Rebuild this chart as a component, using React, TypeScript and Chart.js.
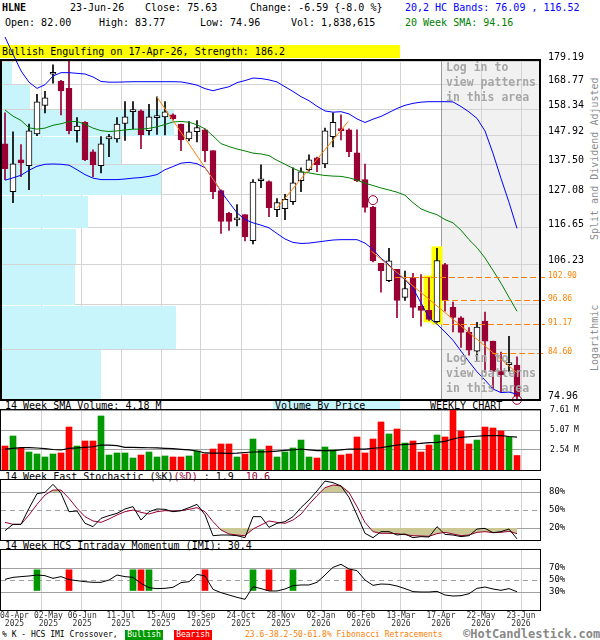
import React, { useEffect, useRef } from "react";
import { Chart, registerables } from "chart.js";

Chart.register(...registerables);

// ---------------- data (weekly bars, index 0 = week of 04-Apr-2025) ----------------
const openP = [144.8,128.1,139.0,136.9,148.6,159.9,173.2,170.1,167.0,149.8,153.1,141.9,136.9,146.7,146.7,152.6,157.3,157.6,149.8,154.9,155.2,156.0,152.4,146.7,149.4,150.1,142.3,128.4,121.1,119.1,120.7,112.9,131.7,131.4,122.3,122.6,124.8,131.7,135.5,139.7,137.5,147.5,150.1,150.1,141.5,132.1,123.1,106.5,101.9,104.9,97.6,102.7,95.4,94.4,91.7,106.2,95.1,92.6,89.2,85.0,91.8,87.2,80.7,82.1,82.00];
const highP = [156.8,149.4,144.5,152.4,164.5,165.8,177.4,170.5,179.19,154.9,153.3,142.6,147.5,148.4,154.9,161.4,161.4,158.0,160.3,163.4,161.4,156.4,152.4,153.3,153.7,150.5,142.3,128.7,121.4,123.9,120.7,132.1,137.2,131.7,125.8,127.2,136.2,136.2,140.8,140.0,150.8,156.8,156.0,150.5,150.1,137.5,123.3,106.5,110.7,104.9,104.4,103.8,103.5,102.7,110.7,106.5,96.4,92.9,90.3,91.5,94.0,87.2,84.8,88.3,83.77];
const lowP = [132.1,124.5,133.1,128.7,147.9,156.8,169.3,156.0,148.6,145.4,138.7,133.1,134.4,140.1,145.4,146.1,150.5,143.0,148.2,148.4,148.2,154.0,142.3,145.9,145.5,138.3,125.8,115.0,115.9,117.3,112.8,112.0,129.4,120.1,120.1,119.2,123.9,128.1,135.0,134.8,136.2,143.7,146.3,140.1,131.4,121.5,106.9,98.9,101.6,92.6,96.8,92.6,90.6,92.0,91.5,94.2,89.3,85.8,84.1,83.0,80.5,77.1,76.5,80.7,74.96];
const closeP = [135.9,137.6,137.9,149.7,161.3,163.0,173.5,165.9,149.8,151.6,139.0,137.2,144.8,147.5,152.4,155.2,157.6,148.2,155.2,155.6,157.2,154.5,146.3,149.4,151.0,142.3,128.1,118.6,118.6,119.3,114.1,131.3,131.9,122.9,124.5,125.6,131.0,134.8,139.0,137.2,149.7,153.1,149.8,141.9,131.7,123.0,107.2,104.5,107.2,96.8,99.8,95.1,94.4,92.2,107.3,96.8,92.7,89.2,85.2,90.4,87.2,80.7,80.0,82.5,75.63];
const volumeM = [3.04,4.31,2.75,2.28,2.03,1.65,2.03,2.16,5.45,3.04,3.68,3.68,6.85,1.90,2.16,2.16,1.52,1.90,2.28,1.65,1.78,1.65,1.65,1.78,2.41,2.03,2.66,3.30,3.30,1.65,2.03,3.93,2.54,3.04,1.65,2.28,2.79,3.80,1.65,1.52,2.92,2.54,1.90,2.03,4.19,2.16,3.93,6.09,4.57,5.20,3.42,3.68,2.28,3.17,4.44,4.19,7.61,4.95,3.30,3.80,5.45,5.33,4.95,4.19,1.84];
const volSmaM = [2.66,2.75,2.83,2.83,2.79,2.70,2.60,2.54,2.75,2.80,2.88,2.95,3.17,3.15,3.08,2.88,2.86,2.84,2.82,2.80,2.75,2.70,2.62,2.55,2.41,2.16,2.14,2.13,2.12,2.15,2.22,2.28,2.30,2.32,2.40,2.48,2.54,2.66,2.55,2.45,2.45,2.45,2.55,2.66,2.66,2.66,2.76,2.85,3.00,3.17,3.24,3.30,3.38,3.46,3.51,3.64,3.93,4.15,4.22,4.28,4.35,4.35,4.35,4.25,4.18];
const upperBand = [190.6,182.4,174.7,169.7,167.0,168.6,172.4,173.9,173.9,173.6,173.3,172.0,170.0,169.7,169.7,169.8,169.9,169.9,169.9,169.9,169.9,169.9,169.8,169.2,168.4,166.9,166.0,166.9,167.7,169.5,170.4,171.5,171.3,170.7,169.8,167.7,165.7,163.5,161.8,159.5,157.6,157.1,157.3,156.4,154.4,153.0,154.3,155.4,157.0,158.6,159.9,160.7,161.2,161.4,161.4,161.4,161.3,159.4,157.2,154.6,149.7,141.3,132.5,124.6,116.52];
const lowerBand = [131.9,132.7,133.6,135.3,136.7,137.4,137.5,137.4,137.1,135.5,133.8,132.6,132.1,132.1,132.1,132.3,132.6,132.8,133.2,133.8,135.5,136.6,137.8,138.1,137.6,136.2,132.4,128.1,124.6,121.3,119.2,118.2,117.5,116.7,115.0,113.4,112.4,112.1,112.2,112.5,112.8,113.1,113.2,113.2,113.2,112.2,110.4,107.9,106.1,103.7,102.2,99.9,96.2,92.6,91.1,89.3,87.4,85.0,82.7,80.6,78.9,77.1,76.4,76.5,76.09];
const sma20 = [158.0,155.5,153.8,150.9,150.4,150.8,151.9,152.5,153.3,153.4,152.3,150.8,149.8,149.5,149.7,150.1,150.4,150.4,150.7,151.3,152.2,153.2,153.4,153.1,152.1,150.5,147.8,144.9,143.8,142.9,142.2,141.4,141.1,140.5,138.8,137.4,136.0,134.8,134.4,133.9,133.5,133.3,133.2,132.7,131.9,130.9,130.1,129.3,128.6,127.9,126.9,124.5,122.5,121.5,120.7,119.2,118.2,116.0,113.2,110.9,108.0,104.6,101.2,97.6,94.16];
const stochK = [15.6,26.1,26.1,52.8,77.2,79.4,92.8,78.0,47.2,48.3,27.8,22.2,36.1,40.6,44.4,51.7,55.6,33.3,47.2,51.7,51.1,47.2,48.9,53.9,59.4,42.0,7.2,8.3,8.3,7.2,3.9,38.9,38.9,21.1,27.8,30.6,38.9,54.0,66.7,81.7,98.3,95.6,90.0,71.1,41.7,11.1,3.9,13.9,13.9,8.3,10.0,3.9,5.6,5.0,22.2,9.4,8.3,5.6,7.2,18.3,19.4,12.2,13.9,18.3,1.9];
const stochD = [29.4,26.1,26.1,41.7,59.4,75.0,83.3,83.3,69.4,52.8,38.9,31.7,29.4,35.0,41.7,47.2,50.0,46.1,43.3,47.2,48.9,48.3,48.9,51.1,53.9,47.2,30.6,16.7,10.0,8.3,7.2,18.3,25.0,31.7,29.4,27.8,33.3,43.0,59.4,73.9,87.2,91.7,90.0,79.4,55.6,29.4,13.9,11.1,11.1,10.6,8.9,7.2,6.7,6.1,10.6,12.8,10.0,7.2,8.3,12.8,13.9,12.2,12.8,14.4,10.6];
const imiValues = [51.1,54.4,55.6,56.7,58.3,57.2,52.8,55.6,50.6,48.9,47.2,46.1,46.1,50.0,58.3,55.6,54.4,44.4,37.2,35.6,36.1,37.8,45.6,47.2,59.4,56.7,34.4,28.9,25.0,21.1,17.8,38.9,35.6,31.7,31.7,35.0,40.6,41.7,41.7,46.1,58.3,71.1,76.1,68.3,65.6,50.0,41.1,43.3,42.8,40.0,35.6,30.6,30.0,30.0,31.1,25.0,23.3,23.9,27.2,36.1,38.3,35.0,32.8,35.6,30.4];
const bullCrossIdx = [4, 16, 18, 31, 36];
const bearCrossIdx = [8, 17, 25, 33, 43];
const crossRange = [32.5, 67];
const priceTicks = [74.96, 85.38, 95.81, 106.23, 116.65, 127.08, 137.5, 147.92, 158.34, 168.77, 179.19];
const hiddenPriceLabels = [85.38, 95.81];
const vbpVolumeM = [20.0, 35.0, 14.8, 15.0, 17.4, 32.0, 24.0, 34.6, 5.8, 2.2];
const fibLevels = [102.9, 96.86, 91.17, 84.6];
const fibStartIdx = [48.75, 54.75, 54.75, 60.9];
const trendStartIdx = [19, 34, 45.8];
const trendStartPrice = [163.3, 122.8, 109.9];
const trendEndIdx = [26.9, 42.9, 63.96];
const trendEndPrice = [128.7, 153.4, 80.46];
const signalIdx = [46, 64];
const signalPrice = [125.3, 75.0];
const patternIdx = [53, 54];
const futureStartIdx = 54;
const dateIdx = [0, 4, 9, 14, 19, 24, 29, 34, 39, 44, 49, 54, 59, 64];
const dateLabels = ["04-Apr","02-May","06-Jun","11-Jul","15-Aug","19-Sep","24-Oct","28-Nov","02-Jan","06-Feb","13-Mar","17-Apr","22-May","23-Jun"];
const yearLabels = ["2025","2025","2025","2025","2025","2025","2025","2025","2026","2026","2026","2026","2026","2026"];
const volTicks = [2.537, 5.073, 7.61];
const stochTicks = [20, 50, 80];
const imiTicks = [30, 50, 70];

// ---------------- styles ----------------
const FONT = '"DejaVu Sans Mono", "Liberation Mono", monospace';
const CRIMSON = "#990033";
const GREEN = "#009900";
const RED = "#ff0000";
const ORANGE = "#ff8000";
const GRID = "#d3d3d3";
const LEVEL = "#a0a0a0";
const TAN = "rgb(204,200,150)";
const X_MIN = -0.5;
const X_MAX = 66.875;
const VBP_SCALE_MAX = 107.8;

const idx = openP.map((_, k) => k);
const bull = (k: number) => closeP[k] >= openP[k];
const points = (arr: number[]) => arr.map((v, k) => ({ x: k, y: v }));

function xAxis(): any {
  return {
    type: "linear",
    min: X_MIN,
    max: X_MAX,
    offset: false,
    afterBuildTicks: (s: any) => {
      s.ticks = dateIdx.map((k) => ({ value: k + 0.5 }));
    },
    afterFit: (s: any) => {
      s.height = 0;
      s.paddingLeft = 0;
      s.paddingRight = 0;
      s.paddingTop = 0;
      s.paddingBottom = 0;
    },
    ticks: { display: false },
    grid: {
      drawTicks: false,
      offset: false,
      lineWidth: 1,
      color: (c: any) => (c.index === 0 ? "rgba(0,0,0,0)" : GRID),
    },
    border: { display: false },
  };
}

function yAxis(extra: any): any {
  return {
    position: "right",
    afterFit: (s: any) => {
      s.width = 60;
      s.paddingTop = 0;
      s.paddingBottom = 0;
      s.paddingLeft = 0;
      s.paddingRight = 0;
    },
    border: { display: false },
    ...extra,
  };
}

const baseOptions = (pad: any) => ({
  responsive: false,
  animation: false,
  events: [],
  layout: { padding: pad, autoPadding: false },
  plugins: { legend: { display: false }, tooltip: { enabled: false } },
});

const framePlugin = (width: number) => ({
  id: "frame",
  afterDatasetsDraw(chart: any) {
    const { ctx, chartArea: a } = chart;
    ctx.save();
    ctx.strokeStyle = "#000";
    ctx.lineWidth = width;
    ctx.setLineDash([]);
    if (width === 1) {
      ctx.strokeRect(
        Math.round(a.left) - 0.5,
        Math.round(a.top) - 0.5,
        Math.round(a.right - a.left) + 1,
        Math.round(a.bottom - a.top) + 1
      );
    } else {
      ctx.strokeRect(
        Math.round(a.left),
        Math.round(a.top) - 1,
        Math.round(a.right - a.left),
        Math.round(a.bottom - a.top) + 1
      );
    }
    ctx.restore();
  },
});

const levelsPlugin = (levels: number[], dashed: number) => ({
  id: "levels",
  beforeDatasetsDraw(chart: any) {
    const { ctx, chartArea: a, scales } = chart;
    ctx.save();
    ctx.strokeStyle = LEVEL;
    ctx.lineWidth = 1;
    levels.forEach((v) => {
      const py = Math.round(scales.y.getPixelForValue(v)) + 0.5;
      ctx.setLineDash(v === dashed ? [5, 4] : []);
      ctx.beginPath();
      ctx.moveTo(a.left, py);
      ctx.lineTo(a.right, py);
      ctx.stroke();
    });
    ctx.restore();
  },
});

const mainDecor = {
  id: "mainDecor",
  beforeDraw(chart: any) {
    const { ctx, chartArea: a, scales } = chart;
    const fx = scales.x.getPixelForValue(futureStartIdx + 0.5);
    ctx.save();
    ctx.fillStyle = "#f1f1f1";
    ctx.fillRect(fx, a.top, a.right - fx, a.bottom - a.top);
    ctx.restore();
  },
  beforeDatasetsDraw(chart: any) {
    const { ctx, chartArea: a, scales } = chart;
    const { x, y, xv } = scales;
    ctx.save();
    // volume by price
    ctx.fillStyle = "#c8f4fc";
    vbpVolumeM.forEach((v, i) => {
      const top = Math.round(y.getPixelForValue(priceTicks[i + 1]));
      const bot = Math.round(y.getPixelForValue(priceTicks[i]));
      const r = xv.getPixelForValue(v);
      ctx.fillRect(a.left, top + 1, r - a.left, bot - top - 1);
    });
    // future boundary
    const fx = Math.round(x.getPixelForValue(futureStartIdx + 0.5)) + 0.5;
    ctx.strokeStyle = "#9a9a9a";
    ctx.lineWidth = 1;
    ctx.beginPath();
    ctx.moveTo(fx, a.top);
    ctx.lineTo(fx, a.bottom);
    ctx.stroke();
    // pattern highlight
    ctx.fillStyle = "#ffff00";
    patternIdx.forEach((k) => {
      const cx = x.getPixelForValue(k);
      const t = y.getPixelForValue(highP[k]) - 2;
      const b = y.getPixelForValue(lowP[k]) + 2;
      ctx.fillRect(cx - 5.5, t, 11, b - t);
    });
    ctx.restore();
  },
  afterDatasetsDraw(chart: any) {
    const { ctx, chartArea: a, scales } = chart;
    const { x, y } = scales;
    ctx.save();
    ctx.strokeStyle = ORANGE;
    ctx.fillStyle = ORANGE;
    ctx.lineWidth = 1;
    ctx.font = `8px ${FONT}`;
    ctx.textBaseline = "middle";
    ctx.textAlign = "left";
    fibLevels.forEach((lv, i) => {
      const py = Math.round(y.getPixelForValue(lv)) + 0.5;
      ctx.setLineDash([6, 3]);
      ctx.beginPath();
      ctx.moveTo(x.getPixelForValue(fibStartIdx[i]), py);
      ctx.lineTo(a.right + 5, py);
      ctx.stroke();
      ctx.setLineDash([]);
      ctx.fillText(lv.toFixed(2), a.right + 8, py - 2);
    });
    ctx.restore();
  },
};

const dateLabelsPlugin = {
  id: "dateLabels",
  afterDraw(chart: any) {
    const { ctx, chartArea: a, scales } = chart;
    ctx.save();
    ctx.font = `8px ${FONT}`;
    ctx.fillStyle = "#333";
    ctx.textBaseline = "middle";
    ctx.textAlign = "center";
    let prevRight = -Infinity;
    dateIdx.forEach((k, i) => {
      const px = scales.x.getPixelForValue(k + 0.5);
      const w = ctx.measureText(dateLabels[i]).width;
      const left = Math.max(px - w / 2, 0, prevRight + 5);
      const cx = left + w / 2;
      prevRight = left + w;
      ctx.fillText(dateLabels[i], cx, a.bottom + 6);
      ctx.fillText(yearLabels[i], cx, a.bottom + 14);
    });
    ctx.restore();
  },
};

function lineDs(data: number[], color: string, extra: any = {}) {
  return {
    type: "line",
    data: points(data),
    borderColor: color,
    borderWidth: 1,
    pointRadius: 0,
    pointHoverRadius: 0,
    order: 5,
    ...extra,
  };
}

function mainConfig(): any {
  return {
    type: "bar",
    data: {
      datasets: [
        {
          type: "bar",
          data: idx.map((k) => ({ x: k, y: [lowP[k], highP[k]] })),
          backgroundColor: idx.map((k) => (bull(k) ? "#000000" : CRIMSON)),
          barThickness: 1,
          grouped: false,
          order: 10,
        },
        {
          type: "bar",
          data: idx.map((k) => ({ x: k, y: [openP[k], closeP[k]] })),
          backgroundColor: idx.map((k) => (bull(k) ? "#ffffff" : CRIMSON)),
          borderColor: idx.map((k) => (bull(k) ? "#000000" : CRIMSON)),
          borderWidth: 1,
          borderSkipped: false,
          barThickness: 6,
          minBarLength: 2,
          grouped: false,
          order: 9,
        },
        lineDs(upperBand, "#0000ff", { clip: false }),
        lineDs(lowerBand, "#0000ff"),
        lineDs(sma20, "#008000"),
        ...trendStartIdx.map((s, i) => ({
          type: "line",
          data: [
            { x: s, y: trendStartPrice[i] },
            { x: trendEndIdx[i], y: trendEndPrice[i] },
          ],
          borderColor: ORANGE,
          borderWidth: 1,
          pointRadius: 0,
          pointHoverRadius: 0,
          order: 4,
        })),
        {
          type: "scatter",
          data: signalIdx.map((k, i) => ({ x: k, y: signalPrice[i] })),
          pointStyle: "circle",
          pointRadius: 4.5,
          borderColor: CRIMSON,
          backgroundColor: "rgba(0,0,0,0)",
          borderWidth: 1,
          clip: false,
          order: 1,
        },
      ],
    },
    options: {
      ...baseOptions({ left: 1, right: 0, top: 31, bottom: 10 }),
      scales: {
        x: xAxis(),
        xv: { type: "linear", axis: "x", position: "bottom", display: false, min: 0, max: VBP_SCALE_MAX, offset: false },
        y: yAxis({
          type: "logarithmic",
          min: 74.96,
          max: 179.19,
          afterBuildTicks: (s: any) => {
            s.ticks = priceTicks.map((v) => ({ value: v }));
          },
          ticks: {
            autoSkip: false,
            padding: 8,
            labelOffset: -4,
            color: "#000",
            font: { family: FONT, size: 10 },
            callback: (v: any) => (hiddenPriceLabels.includes(v) ? "" : Number(v).toFixed(2)),
          },
          grid: { color: GRID, drawTicks: false, lineWidth: 1 },
        }),
      },
    },
    plugins: [mainDecor, framePlugin(2)],
  };
}

function volumeConfig(): any {
  return {
    type: "bar",
    data: {
      datasets: [
        { type: "line", data: points(volSmaM), borderColor: "#000", borderWidth: 1.2, pointRadius: 0, pointHoverRadius: 0, order: 1 },
        {
          type: "bar",
          data: points(volumeM),
          backgroundColor: idx.map((k) => (bull(k) ? GREEN : RED)),
          barThickness: 6,
          grouped: false,
          order: 2,
        },
      ],
    },
    options: {
      ...baseOptions({ left: 1, right: 0, top: 5, bottom: 5 }),
      scales: {
        x: xAxis(),
        y: yAxis({
          type: "linear",
          min: 0,
          max: 7.61,
          afterBuildTicks: (s: any) => {
            s.ticks = volTicks.map((v) => ({ value: v }));
          },
          ticks: {
            autoSkip: false,
            padding: 10,
            color: "#000",
            font: { family: FONT, size: 8 },
            callback: (v: any) => Number(v).toFixed(2) + " M",
          },
          grid: { color: LEVEL, drawTicks: false, lineWidth: 1 },
        }),
      },
    },
    plugins: [framePlugin(1)],
  };
}

function pctAxis(ticks: number[]) {
  return yAxis({
    type: "linear",
    min: 0,
    max: 100,
    afterBuildTicks: (s: any) => {
      s.ticks = ticks.map((v) => ({ value: v }));
    },
    ticks: {
      autoSkip: false,
      padding: 9,
      color: "#000",
      font: { family: FONT, size: 9 },
      callback: (v: any) => v + "%",
    },
    grid: { display: false, drawTicks: false },
  });
}

function stochConfig(): any {
  return {
    type: "line",
    data: {
      datasets: [
        {
          data: points(stochD),
          borderColor: "rgba(0,0,0,0)",
          borderWidth: 0,
          pointRadius: 0,
          pointHoverRadius: 0,
          fill: { target: { value: 80 }, above: TAN, below: "rgba(0,0,0,0)" },
          order: 5,
        },
        {
          data: points(stochD),
          borderColor: "rgba(0,0,0,0)",
          borderWidth: 0,
          pointRadius: 0,
          pointHoverRadius: 0,
          fill: { target: { value: 20 }, above: "rgba(0,0,0,0)", below: TAN },
          order: 5,
        },
        { data: points(stochD), borderColor: CRIMSON, borderWidth: 1, pointRadius: 0, pointHoverRadius: 0, order: 2 },
        { data: points(stochK), borderColor: "#000", borderWidth: 1, pointRadius: 0, pointHoverRadius: 0, order: 1 },
      ],
    },
    options: {
      ...baseOptions({ left: 1, right: 0, top: 5, bottom: 5 }),
      scales: { x: xAxis(), y: pctAxis(stochTicks) },
    },
    plugins: [levelsPlugin(stochTicks, 50), framePlugin(1)],
  };
}

function imiConfig(): any {
  return {
    type: "bar",
    data: {
      datasets: [
        { type: "line", data: points(imiValues), borderColor: "#000", borderWidth: 1, pointRadius: 0, pointHoverRadius: 0, order: 1 },
        {
          type: "bar",
          data: bullCrossIdx.map((k) => ({ x: k, y: crossRange })),
          backgroundColor: GREEN,
          barThickness: 6,
          grouped: false,
          order: 2,
        },
        {
          type: "bar",
          data: bearCrossIdx.map((k) => ({ x: k, y: crossRange })),
          backgroundColor: RED,
          barThickness: 6,
          grouped: false,
          order: 2,
        },
      ],
    },
    options: {
      ...baseOptions({ left: 1, right: 0, top: 5, bottom: 30 }),
      scales: { x: xAxis(), y: pctAxis(imiTicks) },
    },
    plugins: [levelsPlugin(imiTicks, 50), framePlugin(1), dateLabelsPlugin],
  };
}

// ---------------- component ----------------
const txt = (x: number, y: number, content: any, style: any = {}) => (
  <div
    style={{
      position: "absolute",
      left: x,
      top: y,
      whiteSpace: "pre",
      lineHeight: "10px",
      zIndex: 1,
      ...style,
    }}
  >
    {content}
  </div>
);

export default function App() {
  const mainRef = useRef<HTMLCanvasElement>(null);
  const volRef = useRef<HTMLCanvasElement>(null);
  const stoRef = useRef<HTMLCanvasElement>(null);
  const imiRef = useRef<HTMLCanvasElement>(null);

  useEffect(() => {
    const charts = [
      new Chart(mainRef.current as any, mainConfig()),
      new Chart(volRef.current as any, volumeConfig()),
      new Chart(stoRef.current as any, stochConfig()),
      new Chart(imiRef.current as any, imiConfig()),
    ];
    return () => charts.forEach((c) => c.destroy());
  }, []);

  const canvasStyle = (top: number, h: number): any => ({
    position: "absolute",
    left: 0,
    top,
    width: 600,
    height: h,
    zIndex: 2,
  });

  const loginStyle: any = {
    position: "absolute",
    left: 446,
    whiteSpace: "pre",
    fontSize: 11.5,
    fontWeight: "bold",
    lineHeight: "15px",
    color: "#a6a6a6",
    zIndex: 3,
  };

  return (
    <div
      style={{
        position: "absolute",
        left: 0,
        top: 0,
        width: 600,
        height: 640,
        background: "#fff",
        overflow: "hidden",
        fontFamily: FONT,
        fontSize: 10,
        color: "#000",
      }}
    >
      {txt(2, 3, "HLNE", { fontWeight: "bold" })}
      {txt(70, 3, "23-Jun-26")}
      {txt(145, 3, "Close: 75.63")}
      {txt(250, 3, "Change: -6.59 {-8.0 %}")}
      {txt(405, 3, "20,2 HC Bands: 76.09 , 116.52", { color: "#0000ff" })}
      {txt(5, 18, "Open: 82.00")}
      {txt(99, 18, "High: 83.77")}
      {txt(200, 18, "Low: 74.96")}
      {txt(291, 18, "Vol: 1,838,615")}
      {txt(405, 18, "20 Week SMA: 94.16", { color: "#008000" })}
      <div
        style={{
          position: "absolute",
          left: 0,
          top: 45,
          width: 400,
          height: 13,
          background: "#ffff00",
          lineHeight: "13px",
          paddingLeft: 2,
          boxSizing: "border-box",
          whiteSpace: "pre",
          zIndex: 1,
        }}
      >
        Bullish Engulfing on 17-Apr-26, Strength: 186.2
      </div>
      <div
        style={{
          position: "absolute",
          left: 595 - 81,
          top: 159 - 5,
          width: 162,
          height: 10,
          lineHeight: "10px",
          textAlign: "center",
          whiteSpace: "pre",
          color: "#8c8c8c",
          transform: "rotate(-90deg)",
          zIndex: 1,
        }}
      >
        Split and Dividend Adjusted
      </div>
      <div
        style={{
          position: "absolute",
          left: 595 - 33,
          top: 338 - 5,
          width: 66,
          height: 10,
          lineHeight: "10px",
          textAlign: "center",
          whiteSpace: "pre",
          color: "#8c8c8c",
          transform: "rotate(-90deg)",
          zIndex: 1,
        }}
      >
        Logarithmic
      </div>

      {txt(5, 401, "14 Week SMA Volume: 4.18 M")}
      <div
        style={{
          position: "absolute",
          left: 273,
          top: 401,
          width: 127,
          height: 9,
          background: "#c8f4fc",
          lineHeight: "10px",
          paddingLeft: 2,
          boxSizing: "border-box",
          whiteSpace: "pre",
          zIndex: 1,
        }}
      >
        Volume By Price
      </div>
      {txt(430, 401, "WEEKLY CHART")}
      {txt(
        5,
        472,
        <>
          {"14 Week Fast Stochastic (%K)"}
          <span style={{ color: CRIMSON }}>(%D)</span>
          {" : 1.9  "}
          <span style={{ color: CRIMSON }}>10.6</span>
        </>
      )}
      {txt(5, 541, "14 Week HCS Intraday Momentum (IMI): 30.4")}

      {txt(2, 631, "% K - HCS IMI Crossover,", { fontSize: 8, lineHeight: "8px" })}
      <div
        style={{
          position: "absolute",
          left: 125,
          top: 630,
          width: 38,
          height: 10,
          background: GREEN,
          color: "#fff",
          fontSize: 8,
          lineHeight: "10px",
          textAlign: "center",
          zIndex: 1,
        }}
      >
        Bullish
      </div>
      <div
        style={{
          position: "absolute",
          left: 174,
          top: 630,
          width: 38,
          height: 10,
          background: RED,
          color: "#fff",
          fontSize: 8,
          lineHeight: "10px",
          textAlign: "center",
          zIndex: 1,
        }}
      >
        Bearish
      </div>
      {txt(245, 631, "23.6-38.2-50-61.8% Fibonacci Retracements", {
        fontSize: 8,
        lineHeight: "8px",
        color: ORANGE,
      })}
      {txt(463, 628, "©HotCandlestick.com", {
        fontSize: 12,
        lineHeight: "12px",
        fontWeight: "bold",
        color: "#888",
      })}

      <canvas ref={mainRef} width={600} height={380} style={canvasStyle(30, 380)} />
      <canvas ref={volRef} width={600} height={70} style={canvasStyle(405, 70)} />
      <canvas ref={stoRef} width={600} height={70} style={canvasStyle(475, 70)} />
      <canvas ref={imiRef} width={600} height={95} style={canvasStyle(545, 95)} />

      <div style={{ ...loginStyle, top: 60 }}>{"Log in to\nview patterns\nin this area"}</div>
      <div style={{ ...loginStyle, top: 351 }}>{"Log in to\nview patterns\nin this area"}</div>
    </div>
  );
}
